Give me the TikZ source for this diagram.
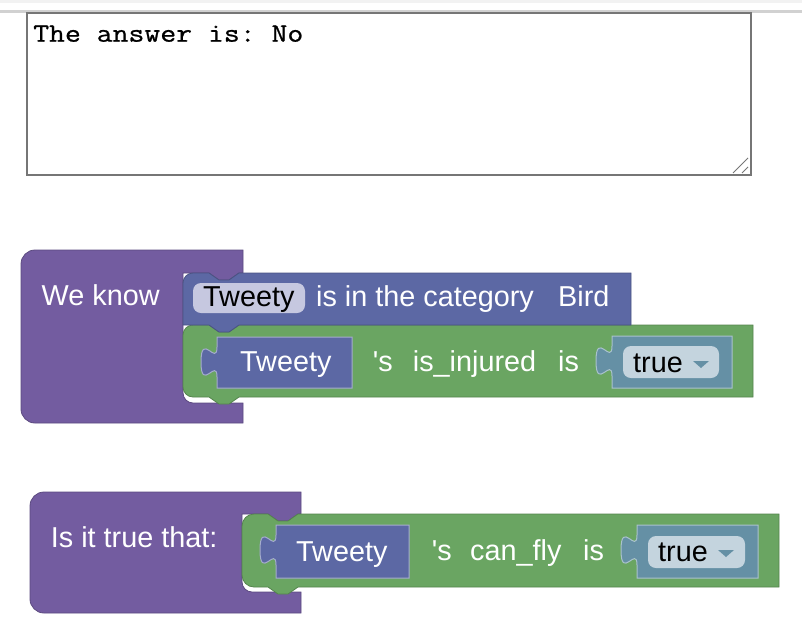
\documentclass[tikz,border=0pt]{standalone}
\usepackage{fontspec}
\setmainfont{Liberation Sans}
\newfontfamily\monofont[FakeStretch=1.16,FakeBold=0.8]{Latin Modern Mono}
\definecolor{bkpurple}{RGB}{115,92,160}
\definecolor{bkblue}{RGB}{92,104,164}
\definecolor{bkgreen}{RGB}{106,165,98}
\definecolor{bkteal}{RGB}{101,144,165}
\definecolor{fieldlav}{RGB}{198,200,224}
\definecolor{fieldteal}{RGB}{196,212,222}
\definecolor{taborder}{RGB}{118,118,118}
\newcommand\valblk[5]{%
  \filldraw[fill=#5, draw=#5!55!white, line width=1pt]
    (#1,#2) -- (#1,{#2+10})
    .. controls (#1,{#2+30}) and ({#1-16},{#2-6}) .. ({#1-16},{#2+25})
    .. controls ({#1-16},{#2+56}) and (#1,{#2+20}) .. (#1,{#2+40})
    -- (#1,#4) -- (#3,#4) -- (#3,#2) -- cycle;}
\begin{document}
\begin{tikzpicture}[x=1pt,y=-1pt,
  lbl/.style={anchor=base west, inner sep=0pt, text=white, font=\fontsize{28.8}{30}\selectfont},
  dlbl/.style={lbl, text=black},
  blk/.style={line width=0.8pt}]
\useasboundingbox (0,0) rectangle (802,638);
\fill[white] (0,0) rectangle (802,638);
% top strip
\fill[black!5] (0,0) rectangle (802,2.5);
\fill[black!18] (0,10) rectangle (802,12.5);
% textarea
\draw[taborder, line width=2pt] (27,13) rectangle (751,175);
\node[anchor=base west, inner sep=0pt, font=\monofont\fontsize{26.6}{28}\selectfont\frenchspacing] (answer) at (33,41.7) {The answer is: No};
\draw[taborder, line width=1pt] (733,173) -- (748,158) (742,173) -- (748,167);

% ===== block 1 =====
\filldraw[fill=bkpurple, draw=bkpurple!80!black, blk]
  (21,264) .. controls (21,256.3) and (27.3,250) .. (35,250) -- (243,250) -- (243,273)
  -- (239,273) -- (229,280) -- (219,280) -- (209,273) -- (183,273) -- (183,393)
  .. controls (183,398.5) and (187.5,403) .. (193,403) -- (243,403) -- (243,423)
  -- (35,423) .. controls (27.3,423) and (21,416.7) .. (21,409) -- cycle;
\filldraw[fill=bkgreen, draw=bkgreen!80!black, blk]
  (183,335) .. controls (183,329.5) and (187.5,325) .. (193,325) -- (209,325) -- (219,332)
  -- (229,332) -- (239,325) -- (753,325) -- (753,397) -- (239,397) -- (229,404) -- (219,404)
  -- (209,397) -- (193,397) .. controls (187.5,397) and (183,392.5) .. (183,387) -- cycle;
\filldraw[fill=bkblue, draw=bkblue!80!black, blk]
  (183,283) .. controls (183,277.5) and (187.5,273) .. (193,273) -- (209,273) -- (219,280)
  -- (229,280) -- (239,273) -- (631,273) -- (631,325) -- (239,325) -- (229,332) -- (219,332)
  -- (209,325) -- (183,325) -- cycle;
\fill[fieldlav, rounded corners=8pt] (193,283) rectangle (305,313);
\node[lbl] (weknow) at (41.5,305) {We know};
\node[dlbl] (tw1) at (203,306) {Tweety};
\node[lbl] (cat) at (316,306) {is in the category};
\node[lbl] (bird) at (558,306) {Bird};
\valblk{217}{337}{352}{388}{bkblue}
\node[lbl] (tw2) at (240,371) {Tweety};
\node[lbl] (s1) at (372.7,371) {\textquotesingle s};
\node[lbl] (inj) at (412.7,371) {is\_injured};
\node[lbl] (is1) at (558,371) {is};
\valblk{612}{336}{732}{388}{bkteal}
\fill[fieldteal, rounded corners=8pt] (623,346) rectangle (719,378);
\node[dlbl] (true1) at (633,372) {true};
\fill[bkteal] (693,361) -- (709,361) -- (701,368) -- cycle;

% ===== block 2 =====
\filldraw[fill=bkpurple, draw=bkpurple!80!black, blk]
  (30,506) .. controls (30,498.3) and (36.3,492) .. (44,492) -- (301,492) -- (301,514)
  -- (298,514) -- (288,521) -- (278,521) -- (268,514) -- (242,514) -- (242,582)
  .. controls (242,587.5) and (246.5,592) .. (252,592) -- (301,592) -- (301,613)
  -- (44,613) .. controls (36.3,613) and (30,606.7) .. (30,599) -- cycle;
\filldraw[fill=bkgreen, draw=bkgreen!80!black, blk]
  (242,526) .. controls (242,519.4) and (247.4,514) .. (254,514) -- (268,514) -- (278,521)
  -- (288,521) -- (298,514) -- (779,514) -- (779,587) -- (298,587) -- (288,594) -- (278,594)
  -- (268,587) -- (254,587) .. controls (247.4,587) and (242,581.6) .. (242,575) -- cycle;
\node[lbl] (istrue) at (50.7,547) {Is it true that:};
\valblk{276}{525}{409}{578}{bkblue}
\node[lbl] (tw3) at (296,561) {Tweety};
\node[lbl] (s2) at (431.7,560) {\textquotesingle s};
\node[lbl] (fly) at (470,560) {can\_fly};
\node[lbl] (is2) at (583,560) {is};
\valblk{637}{525}{758}{578}{bkteal}
\fill[fieldteal, rounded corners=8pt] (648,536) rectangle (745,568);
\node[dlbl] (true2) at (658,561) {true};
\fill[bkteal] (718,550) -- (734,550) -- (726,557) -- cycle;
\end{tikzpicture}
\end{document}
